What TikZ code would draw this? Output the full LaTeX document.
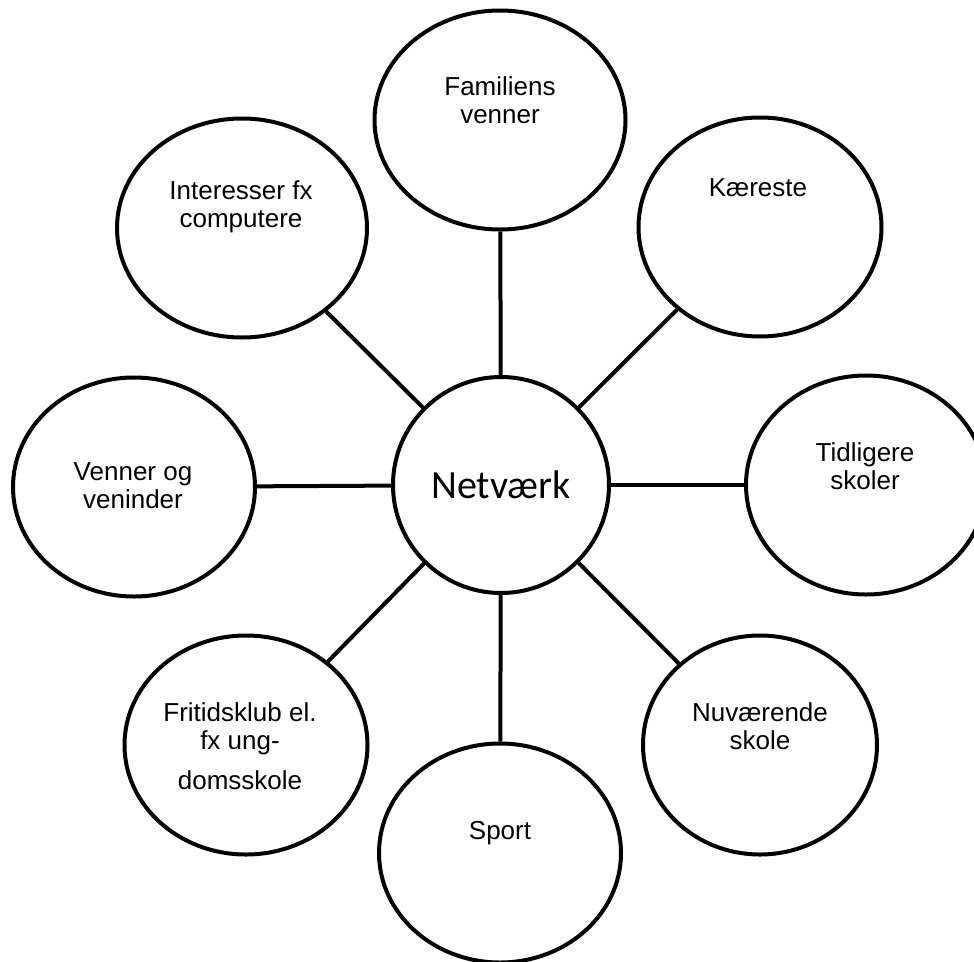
\documentclass[tikz,border=0pt]{standalone}
\usepackage{fontspec}
\setmainfont{Liberation Sans}
\newfontfamily\hubfont{Carlito}
\usetikzlibrary{shapes.geometric,positioning}

\tikzset{
  bubble/.style={ellipse, draw, line width=4pt, minimum width=242pt, minimum height=219pt, inner sep=0pt},
  hub/.style={circle, draw, line width=4pt, minimum size=216pt, inner sep=0pt, font=\hubfont\fontsize{40}{44}\selectfont},
  txt/.style={align=center, inner sep=0pt, font=\fontsize{26}{28}\selectfont},
  spoke/.style={line width=4pt},
}

\begin{document}
\begin{tikzpicture}[x=1pt,y=-1pt]
\useasboundingbox (0,0) rectangle (974,961);
% nodes
\node[hub] (net) at (501,485) {Netværk};
\node[bubble, minimum width=251pt] (fam) at (500,120) {};
\node[bubble, minimum width=243pt] (kaer) at (760,227) {};
\node[bubble, minimum width=250pt] (inter) at (242,228) {};
\node[bubble] (venner) at (134,487) {};
\node[bubble, minimum width=240pt] (tidl) at (866,485) {};
\node[bubble, minimum width=234pt] (nuv) at (760,745) {};
\node[bubble] (sport) at (500,853) {};
\node[bubble, minimum width=243pt] (fritid) at (246,745) {};

% texts
\node[txt] (fam-t) at (500,100) {Familiens\\venner};
\node[txt] (kaer-t) at (758,188) {Kæreste};
\node[txt] (inter-t) at (241,207) {Interesser fx\\computere};
\node[txt] (venner-t) at (133,486) {Venner og\\veninder};
\node[txt] (tidl-t) at (865,466) {Tidligere\\skoler};
\node[txt] (nuv-t) at (760,726) {Nuværende\\skole};
\node[txt] (sport-t) at (500,833) {Sport};
\node[txt] (fritid-t) at (240,746) {Fritidsklub el.\\fx ung-\\[12pt]domsskole};

% edges
\draw[spoke] (net) -- (fam);
\draw[spoke] (net) -- (kaer);
\draw[spoke] (net) -- (tidl);
\draw[spoke] (net) -- (nuv);
\draw[spoke] (net) -- (sport);
\draw[spoke] (net) -- (fritid);
\draw[spoke] (net) -- (venner);
\draw[spoke] (net) -- (inter);
\end{tikzpicture}
\end{document}
